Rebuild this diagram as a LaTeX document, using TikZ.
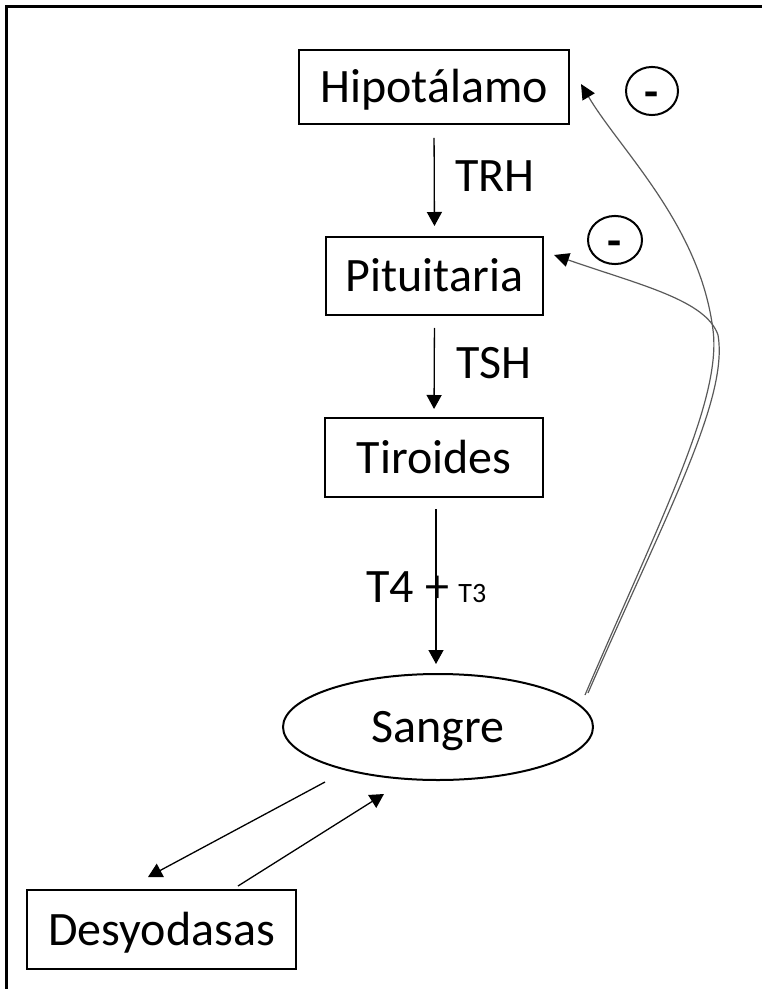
\documentclass[tikz,border=0pt]{standalone}
\usepackage{fontspec}
\setmainfont{Carlito}
\usetikzlibrary{arrows.meta,calc,shapes.geometric}

\tikzset{
  organ/.style={draw, line width=1pt, inner sep=0pt, text height=15.5pt, text depth=0pt,
    font=\fontsize{24}{28}\selectfont},
  hormone/.style={inner sep=0pt, anchor=base west, font=\fontsize{24}{28}\selectfont},
  flow/.style={line width=0.65pt, -{Triangle[length=7pt,width=7.5pt]}},
  feedback/.style={line width=0.6pt, draw=black!65, -{Triangle[length=7.5pt,width=7pt,color=black,fill=black]}},
  minus/.style={draw, ellipse, line width=1pt, inner sep=0pt, text height=17pt, text depth=0pt,
    font=\fontsize{23}{28}\selectfont\bfseries}
}

\begin{document}
\begin{tikzpicture}[x=0.5pt,y=-0.5pt]
  \useasboundingbox (0,0) rectangle (761,989);
  % outer frame: only its top and left edges fall inside the page
  \draw[line width=1.25pt, line cap=rect] (6.5,989) -- (6.5,6.5) -- (761,6.5);

  % glands and compartments
  \node[organ, minimum width=135pt, minimum height=37pt] (hip) at (434,87) {Hipotálamo};
  \node[organ, minimum width=108.5pt, minimum height=39pt] (pit) at (434.5,276) {Pituitaria};
  \node[organ, minimum width=109pt, minimum height=39.5pt] (tir) at (434,457.5) {Tiroides\hspace{10pt}};
  \node[organ, ellipse, minimum width=155pt, minimum height=53pt] (san) at (438,727) {Sangre\hspace{5pt}};
  \node[organ, minimum width=134.5pt, minimum height=39.5pt] (des) at (161.5,929.5) {Desyodasas};

  % axis hormones
  \draw[flow, shorten <=6.5pt, shorten >=5pt] (hip.south) -- (pit.north);
  \draw[flow, shorten <=6pt, shorten >=4pt] (pit.south) -- (tir.north);
  \draw[flow, shorten <=5.5pt, shorten >=4.5pt] ($(tir.south)+(2,0)$) -- ($(san.north)+(-2,0)$);

  \node[hormone] (trh) at (455,192) {TRH};
  \node[hormone] (tsh) at (456,379) {TSH};
  \node[hormone] (t4) at (366,602) {T4};
  \node[inner sep=0pt, anchor=base, font=\fontsize{24}{28}\selectfont] (plus) at (437,602) {+};
  \node[hormone, font=\fontsize{14}{16}\selectfont] (t3) at (458,602) {T3};

  % exchange with the deiodinases
  \coordinate (sOut) at ($(san.center)+(-113,55)$);
  \coordinate (dIn)  at ($(des.north)+(-13.5,-12)$);
  \coordinate (dOut) at ($(des.north)+(76.5,-3)$);
  \coordinate (sIn)  at ($(san.center)+(-54,67)$);
  \draw[flow] (sOut) -- (dIn);
  \draw[flow] (dOut) -- (sIn);

  % negative feedback from the blood
  \coordinate (fbA) at ($(san.center)+(147,-32)$);
  \coordinate (fbB) at ($(san.center)+(150,-34)$);
  \coordinate (hipIn) at ($(hip.east)+(11,-3)$);
  \coordinate (pitIn) at ($(pit.east)+(10,-21)$);
  \draw[feedback] (fbA) .. controls (660,520) and (722,400) .. (713,330)
                        .. controls (700,225) and (620,150) .. (hipIn);
  \draw[feedback] (fbB) .. controls (664,518) and (729,400) .. (718,335)
                        .. controls (706,300) and (640,285) .. (pitIn);

  \node[minus, minimum width=26pt, minimum height=14pt] (m1) at (652,91) {-};
  \node[minus, minimum width=27pt, minimum height=15pt] (m2) at (615,240) {-};
\end{tikzpicture}
\end{document}
